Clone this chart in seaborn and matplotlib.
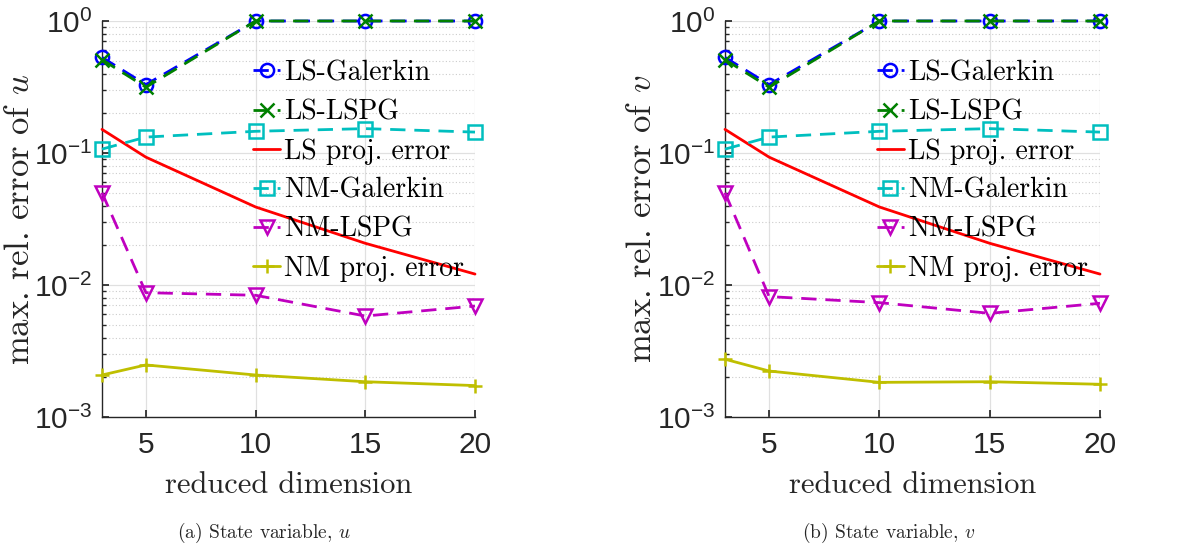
import numpy as np
import pandas as pd
import matplotlib
matplotlib.use("Agg")
import matplotlib.pyplot as plt
import seaborn as sns
from matplotlib.ticker import FixedLocator, FuncFormatter, LogLocator, NullFormatter

# ---------------- data ----------------
dims = [3, 5, 10, 15, 20]

# panel (a): state variable u
u_ls_galerkin = [0.53, 0.33, 1.0, 1.0, 1.0]
u_ls_lspg = [0.51, 0.315, 1.0, 1.0, 1.0]
u_ls_proj = [0.151, 0.093, 0.039, 0.0207, 0.0121]
u_nm_galerkin = [0.107, 0.132, 0.146, 0.153, 0.144]
u_nm_lspg = [0.050, 0.00875, 0.00836, 0.00582, 0.00693]
u_nm_proj = [0.00208, 0.00248, 0.00208, 0.00185, 0.00173]

# panel (b): state variable v
v_ls_galerkin = [0.53, 0.33, 1.0, 1.0, 1.0]
v_ls_lspg = [0.51, 0.315, 1.0, 1.0, 1.0]
v_ls_proj = [0.151, 0.093, 0.039, 0.0207, 0.0121]
v_nm_galerkin = [0.107, 0.132, 0.146, 0.153, 0.144]
v_nm_lspg = [0.050, 0.00817, 0.00735, 0.0061, 0.00727]
v_nm_proj = [0.00274, 0.00223, 0.00183, 0.00185, 0.00177]

series_names = ["LS-Galerkin", "LS-LSPG", "LS proj. error",
                "NM-Galerkin", "NM-LSPG", "NM proj. error"]
xtick_vals = [5, 10, 15, 20]
ylabels = [r"max. rel. error of $u$", r"max. rel. error of $v$"]
captions = [r"(a) State variable, $u$", r"(b) State variable, $v$"]
xlabel = "reduced dimension"

# ---------------- styles ----------------
styles = {
    "LS-Galerkin": dict(color=(0, 0, 1), marker="o", dashed=True),
    "LS-LSPG": dict(color=(0, 0.5, 0), marker="x", dashed=True),
    "LS proj. error": dict(color=(1, 0, 0), marker=None, dashed=False),
    "NM-Galerkin": dict(color=(0, 0.75, 0.75), marker="s", dashed=True),
    "NM-LSPG": dict(color=(0.75, 0, 0.75), marker="v", dashed=True),
    "NM proj. error": dict(color=(0.75, 0.75, 0), marker="+", dashed=False),
}

sns.set_theme(style="white")
plt.rcParams["font.family"] = ["Liberation Sans", "DejaVu Sans"]
plt.rcParams["mathtext.fontset"] = "custom"
plt.rcParams["mathtext.rm"] = "Liberation Sans"

fig = plt.figure(figsize=(11.96, 5.49), dpi=100)
ax_pos = [
    [102 / 1196, (549 - 417) / 549, 373 / 1196, 396 / 549],
    [725 / 1196, (549 - 417) / 549, 375 / 1196, 396 / 549],
]

panels = [
    [u_ls_galerkin, u_ls_lspg, u_ls_proj, u_nm_galerkin, u_nm_lspg, u_nm_proj],
    [v_ls_galerkin, v_ls_lspg, v_ls_proj, v_nm_galerkin, v_nm_lspg, v_nm_proj],
]

serif = "cmr10"
xlabel_fs = 22
ylabel_fs = 25
legend_fs = 20
tick_fs = 21.5
caption_fs = 14
caption_x = [264, 889]

for i, vals in enumerate(panels):
    ax = fig.add_axes(ax_pos[i])
    rows = []
    for name, v in zip(series_names, vals):
        for d, y in zip(dims, v):
            rows.append(dict(dim=d, err=y, method=name))
    df = pd.DataFrame(rows)
    for name in series_names:
        st = styles[name]
        sub = df[df["method"] == name]
        kw = dict(color=st["color"], linewidth=2.0, markersize=9.5,
                  markeredgewidth=1.8, markerfacecolor="none",
                  markeredgecolor=st["color"],
                  clip_on=False, zorder=3)
        if st["marker"] is not None:
            kw["marker"] = st["marker"]
        kw["linestyle"] = (0, (5.5, 3.2)) if st["dashed"] else "-"
        sns.lineplot(data=sub, x="dim", y="err", ax=ax, label=name,
                     legend=False, **kw)

    ax.set_yscale("log")
    ax.set_xlim(3, 20)
    ax.set_ylim(1e-3, 1)
    ax.xaxis.set_major_locator(FixedLocator(xtick_vals))
    ax.yaxis.set_major_locator(LogLocator(base=10, numticks=10))
    ax.yaxis.set_minor_locator(LogLocator(base=10, subs=np.arange(2, 10), numticks=20))
    ax.yaxis.set_minor_formatter(NullFormatter())
    ax.yaxis.set_major_formatter(FuncFormatter(
        lambda y, pos: r"$\mathregular{10^{%d}}$" % int(round(np.log10(y)))))

    ax.grid(True, which="major", color="0.88", linewidth=0.9, linestyle="-")
    ax.grid(True, which="minor", axis="y", color="0.8", linewidth=0.8,
            linestyle=(0, (1, 2)))
    ax.set_axisbelow(True)
    for s in ["top", "right"]:
        ax.spines[s].set_visible(False)
    for s in ["left", "bottom"]:
        ax.spines[s].set_color("0.15")
        ax.spines[s].set_linewidth(1.0)
    ax.tick_params(axis="both", which="major", direction="in", length=5,
                   labelsize=tick_fs, labelcolor="0.15", color="0.15",
                   left=True, bottom=True, pad=7)
    ax.tick_params(axis="x", which="major", pad=10)
    ax.tick_params(axis="y", which="minor", direction="in", length=3,
                   color="0.15", left=True)

    ax.set_xlabel(xlabel, fontsize=xlabel_fs, family=serif, math_fontfamily="cm",
                  color="0.15", va="center")
    ax.xaxis.set_label_coords(0.5, -0.172)
    ax.set_ylabel(ylabels[i], fontsize=ylabel_fs, family=serif,
                  math_fontfamily="cm", color="0.15", va="center")
    ax.yaxis.set_label_coords(-0.22, 0.5)

    leg = ax.legend(loc="upper left", bbox_to_anchor=(0.405, 0.902),
                    frameon=False, borderpad=0, borderaxespad=0,
                    handlelength=0.97, handletextpad=0.15, labelspacing=0.46,
                    numpoints=1,
                    prop=dict(family=serif, size=legend_fs))
    for t in leg.get_texts():
        t.set_color("black")

    fig.text(caption_x[i] / 1196, 1 - 533 / 549, captions[i], ha="center",
             va="center", fontsize=caption_fs, family=serif, math_fontfamily="cm")

fig.savefig("out.png", dpi=100)
